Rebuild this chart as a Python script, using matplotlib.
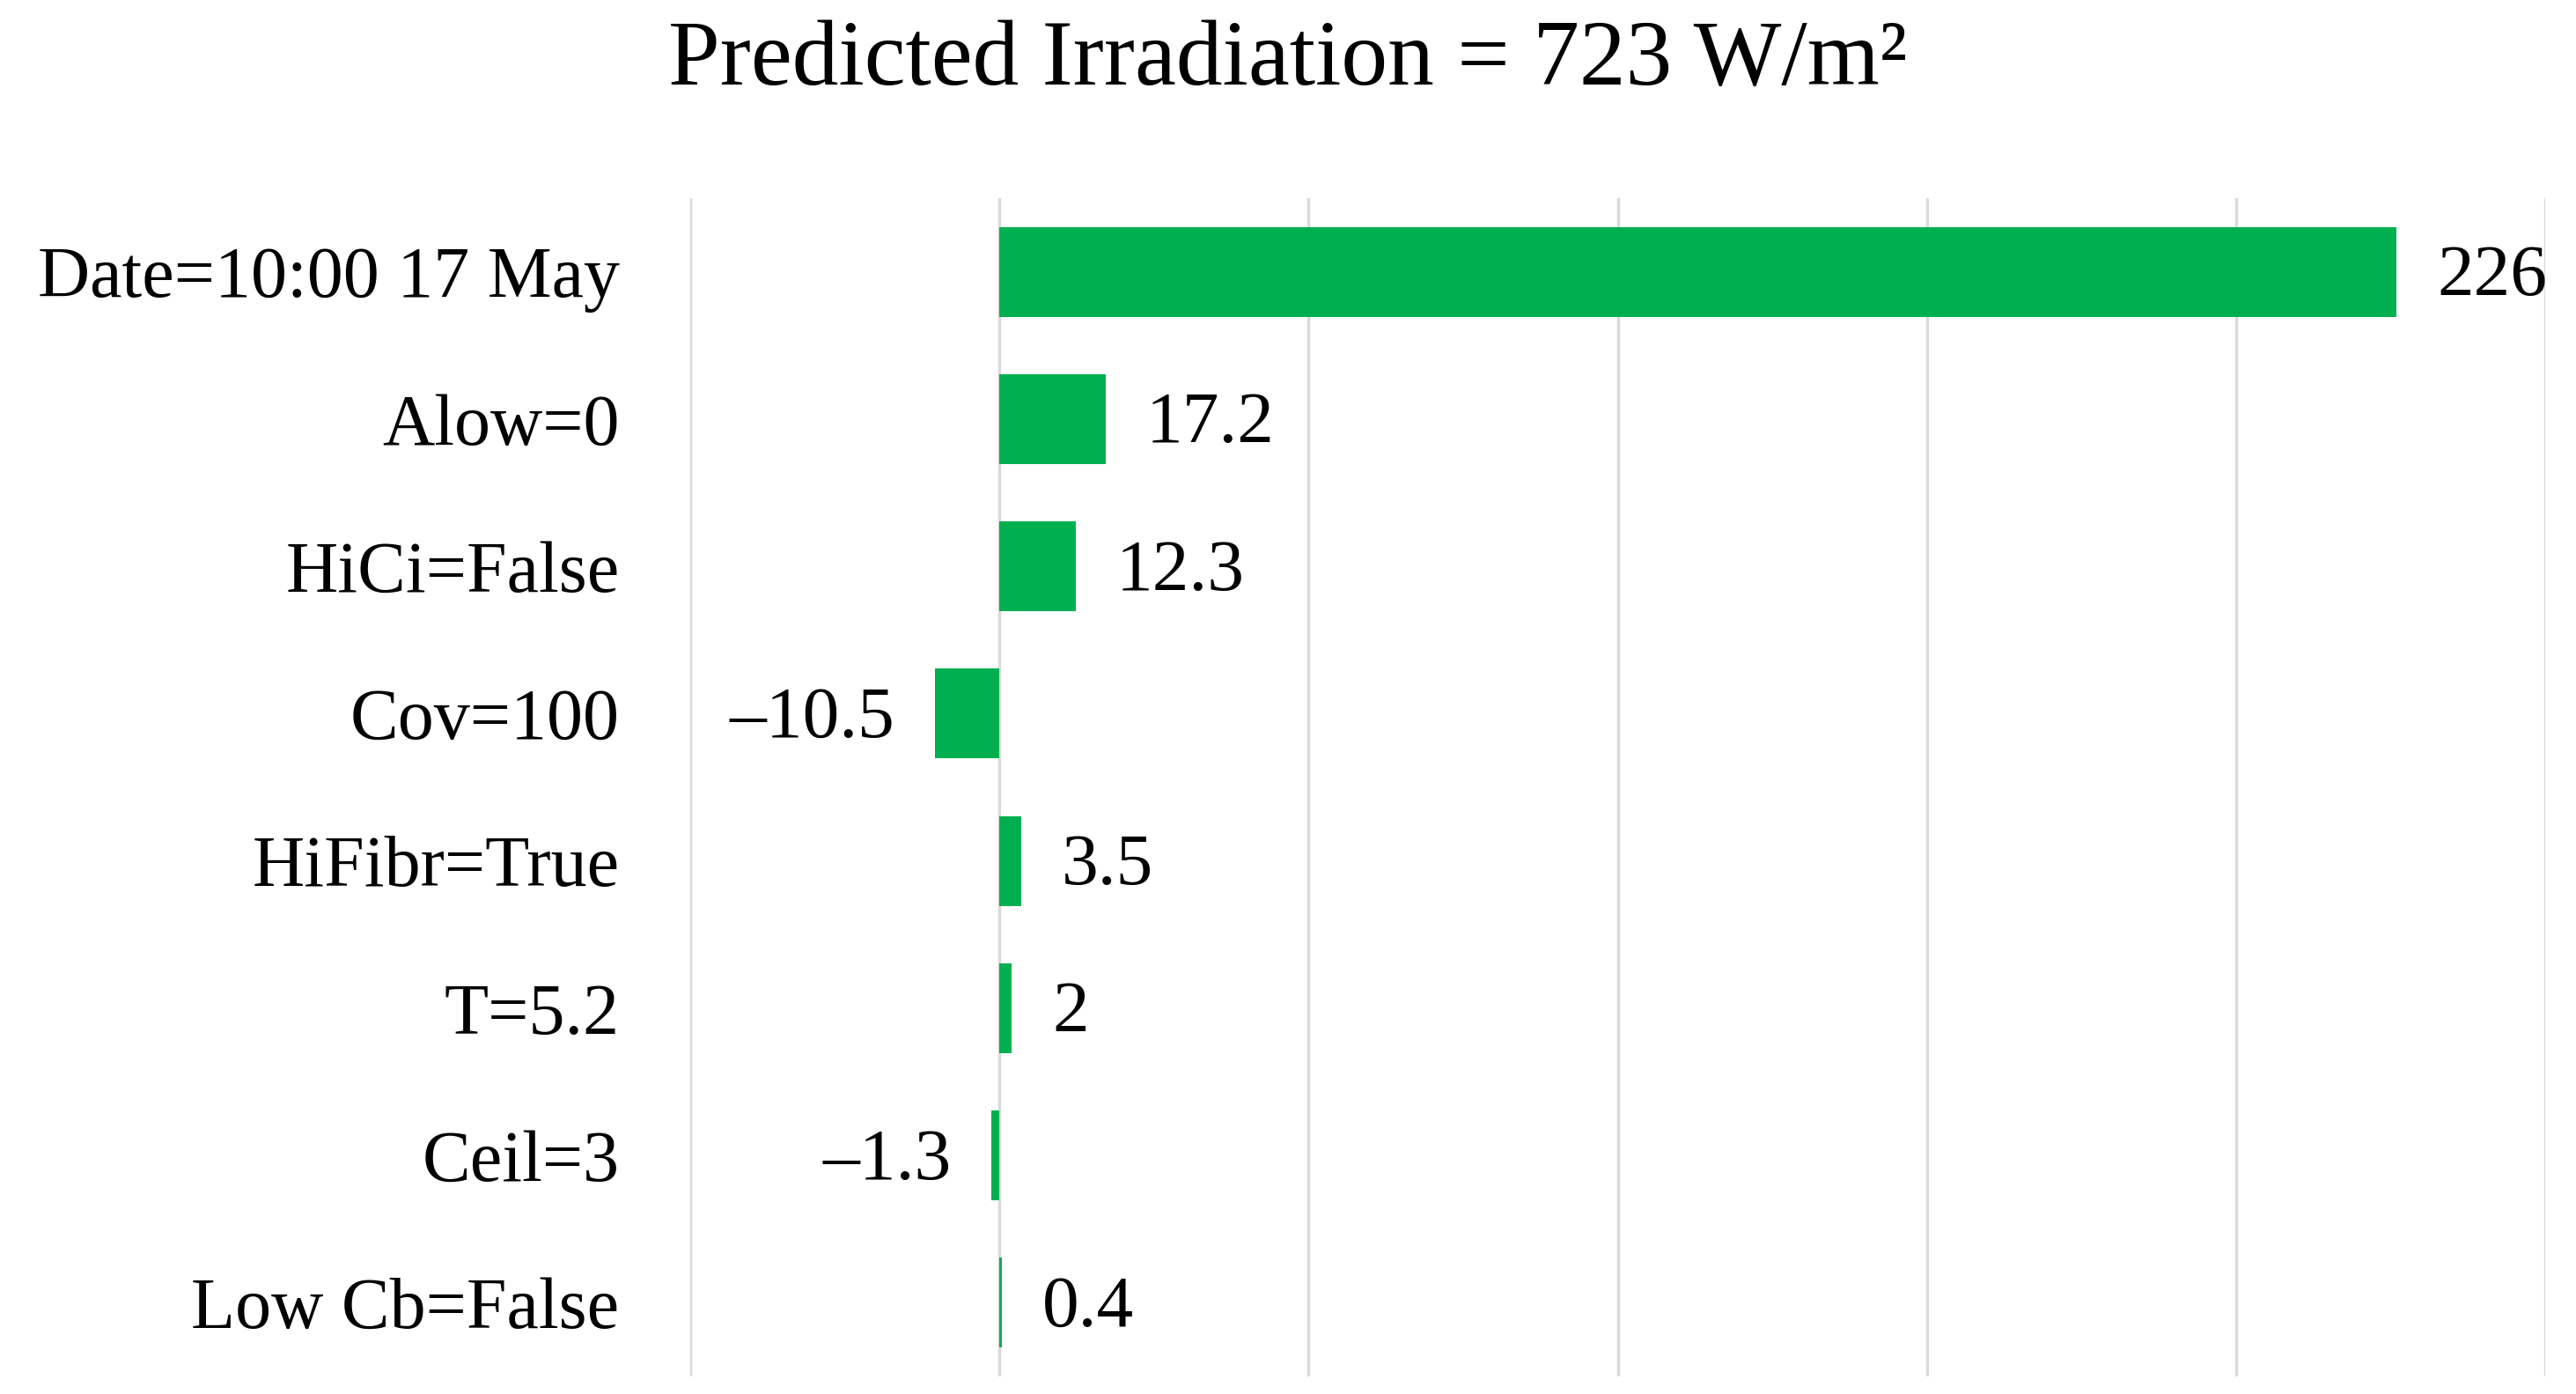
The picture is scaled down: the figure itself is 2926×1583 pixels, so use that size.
import numpy as np
import matplotlib
matplotlib.use('Agg')
import matplotlib.pyplot as plt

# data
features = ["Date=10:00 17 May", "Alow=0", "HiCi=False", "Cov=100",
            "HiFibr=True", "T=5.2", "Ceil=3", "Low Cb=False"]
contrib = [226, 17.2, 12.3, -10.5, 3.5, 2, -1.3, 0.4]
grid_ticks = [-50, 0, 50, 100, 150, 200, 250]

plt.rcParams['font.family'] = ['Liberation Serif', 'DejaVu Serif']

fig = plt.figure(figsize=(14.63, 7.915), dpi=200)
ax = fig.add_axes([0.268, 0.0126, 0.72, 0.8453])

y = np.arange(len(features))
ax.barh(y, contrib, height=0.61, color='#00B050', zorder=3)

# value labels next to bar ends
for yi, v in zip(y, contrib):
    txt = f"{v:g}".replace("-", "\u2013")
    off = 6.5 if v >= 0 else -6.5
    ax.text(v + off, yi + 0.04, txt, ha='left' if v >= 0 else 'right',
            va='center', fontsize=30, color='black', zorder=4)

ax.set_xlim(-50, 250)
ax.set_ylim(len(features) - 0.5, -0.5)
ax.set_xticks(grid_ticks)
ax.set_xticklabels([])
ax.set_yticks(y)
ax.set_yticklabels(features, fontsize=29.5)
ax.tick_params(axis='both', length=0)
ax.tick_params(axis='y', pad=29)
ax.xaxis.grid(True, color='#d9d9d9', linewidth=1.2, zorder=0)
ax.set_axisbelow(True)
for s in ax.spines.values():
    s.set_visible(False)

fig.text(0.5, 0.955, "Predicted Irradiation = 723 W/m\u00b2",
         ha='center', va='center', fontsize=38)

plt.savefig('out.png', dpi=200)
